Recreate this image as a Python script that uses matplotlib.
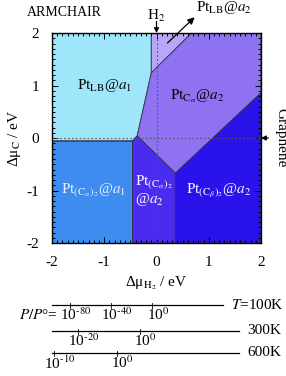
import matplotlib
matplotlib.use('Agg')
import matplotlib.pyplot as plt
from matplotlib.patches import Polygon
from matplotlib.ticker import MultipleLocator

plt.rcParams['font.family'] = ['Liberation Serif', 'DejaVu Serif']
plt.rcParams['mathtext.fontset'] = 'stix'
plt.rcParams['axes.unicode_minus'] = False

# phase regions (corner points, in eV)
lb_a1 = [(-2, 2), (-0.1, 2), (-0.1, 1.24), (-0.37, 0.04), (-0.46, -0.05), (-2, -0.05)]
lb_a2 = [(-0.1, 2), (0.67, 2), (-0.1, 1.24)]
ca_a2 = [(-0.1, 1.24), (0.67, 2), (2, 2), (2, 0.86), (0.36, -0.67), (-0.37, 0.04)]
ca2_a1 = [(-2, -0.05), (-0.46, -0.05), (-0.46, -2), (-2, -2)]
ca2_a2 = [(-0.46, -0.05), (-0.37, 0.04), (0.36, -0.67), (0.36, -2), (-0.46, -2)]
cb2_a2 = [(0.36, -0.67), (2, 0.86), (2, -2), (0.36, -2)]

regions = [lb_a1, lb_a2, ca_a2, ca2_a1, ca2_a2, cb2_a2]
colors = ['#a0e6fa', '#b8a7f7', '#8e72f2', '#3e8cf0', '#4a2cf0', '#2a12ea']

# pressure scales: temperature, tick positions (eV), exponents, line end (eV)
temps = ['$T$=100K', '300K', '600K']
tick_x = [[-1.665, -0.87, -0.077], [-1.51, -0.325], [-1.955, -0.765]]
tick_exp = [['-80', '-40', '0'], ['-20', '0'], ['-10', '0']]
line_end = [1.28, 1.58, 1.58]

W, H = 286, 376
fig = plt.figure(figsize=(W / 100, H / 100), dpi=100)
fig.patch.set_facecolor('white')

ax = fig.add_axes([52 / W, 1 - 243 / H, 209 / W, 210 / H])
ax.set_xlim(-2, 2)
ax.set_ylim(-2, 2)

for pts, c in zip(regions, colors):
    ax.add_patch(Polygon(pts, closed=True, facecolor=c, edgecolor='#333344', lw=0.6, zorder=1))

ax.axhline(0, color='#555566', lw=0.8, ls=(0, (1.5, 2)), zorder=2)
ax.axvline(0, color='#555566', lw=0.8, ls=(0, (1.5, 2)), zorder=2)

ax.xaxis.set_major_locator(MultipleLocator(1))
ax.yaxis.set_major_locator(MultipleLocator(1))
ax.xaxis.set_minor_locator(MultipleLocator(0.1))
ax.yaxis.set_minor_locator(MultipleLocator(0.1))
ax.tick_params(which='both', direction='in', top=True, right=True, labelsize=11, width=0.7)
ax.tick_params(which='major', length=4)
ax.tick_params(axis='x', which='major', pad=9)
ax.tick_params(axis='y', which='major', pad=9)
ax.tick_params(which='minor', length=2)
for s in ax.spines.values():
    s.set_linewidth(1.0)
    s.set_zorder(5)

ax.set_xlabel('Δμ$_{\\rm H_2}$ / eV', fontsize=11, labelpad=4)
ax.set_ylabel('Δμ$_{\\rm C}$ / eV', fontsize=11, labelpad=3)

fs = 11
ax.text(-1.0, 1.0, 'Pt$_{\\rm LB}$@$a_1$', fontsize=fs, ha='center', va='center', zorder=4)
ax.text(0.77, 0.8, 'Pt$_{{\\rm C}_\\alpha}$@$a_2$', fontsize=fs, ha='center', va='center', zorder=4)
ax.text(-1.2, -1.0, 'Pt$_{({\\rm C}_\\alpha)_2}$@$a_1$', fontsize=fs, ha='center', va='center',
        color='#e8f2ff', zorder=4)
ax.text(-0.41, -1.0, 'Pt$_{({\\rm C}_\\alpha)_2}$\n@$a_2$', fontsize=fs, ha='left', va='center',
        color='white', linespacing=1.0, zorder=4)
ax.text(1.19, -1.0, 'Pt$_{({\\rm C}_\\beta)_2}$@$a_2$', fontsize=fs, ha='center', va='center',
        color='white', zorder=4)

arrow = dict(arrowstyle='-|>', color='black', lw=0.9, mutation_scale=7, shrinkA=0, shrinkB=0)
ax.annotate('', xy=(0, 2.0), xytext=(0, 2.22), arrowprops=arrow, annotation_clip=False)
ax.text(0, 2.33, 'H$_2$', fontsize=fs, ha='center', va='center')
ax.annotate('', xy=(0.73, 2.3), xytext=(0.21, 1.81), arrowprops=dict(arrow, mutation_scale=10),
            annotation_clip=False, zorder=6)
ax.text(1.29, 2.48, 'Pt$_{\\rm LB}$@$a_2$', fontsize=fs, ha='center', va='center')
ax.annotate('', xy=(2.0, 0), xytext=(2.14, 0), arrowprops=arrow, annotation_clip=False)
ax.text(2.38, 0, 'Graphene', fontsize=fs, ha='center', va='center', rotation=270)

fig.text(27 / W, 1 - 13 / H, 'ARMCHAIR', fontsize=10, ha='left', va='center')

# pressure scales below the map
ax2 = fig.add_axes([52 / W, 0, 209 / W, 86 / H])
ax2.set_xlim(-2, 2)
ax2.set_ylim(376, 290)
ax2.axis('off')
line_y = [305, 331, 353]
for ly, lab, xs, exps, xe in zip(line_y, temps, tick_x, tick_exp, line_end):
    ax2.plot([-2, xe], [ly, ly], color='black', lw=0.9, clip_on=False)
    ax2.text(xe + 0.15, ly, lab, fontsize=fs, ha='left', va='center')
    for x, e in zip(xs, exps):
        ax2.plot([x, x], [ly - 2.5, ly + 2.5], color='black', lw=0.6, clip_on=False)
        sup = e.replace('-', '\u2010')
        ax2.text(x + 0.11, ly + 10, '10$^{' + sup + '}$', fontsize=fs, ha='center', va='center',
                 clip_on=False)
ax2.text(-1.89, line_y[0] + 10, '$P/P$°=', fontsize=fs, ha='right', va='center')

fig.savefig('out.png', dpi=100)
